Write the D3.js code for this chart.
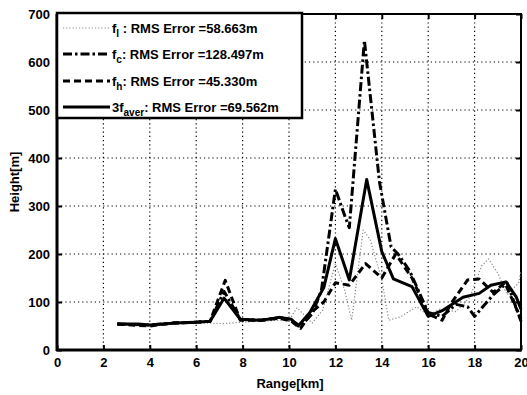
<!DOCTYPE html>
<html>
<head>
<meta charset="utf-8">
<script src="https://cdn.jsdelivr.net/npm/d3@7"></script>
<style>
  html, body { margin: 0; padding: 0; background: #fff; }
  svg { display: block; }
  text { font-family: "Liberation Sans", Arial, sans-serif; font-weight: bold; fill: #000; }
</style>
</head>
<body>
<svg id="chart" width="527" height="395"></svg>
<script>
// Height profiles along range, one pair of arrays per estimate
const rangeFl = [2.6, 4.0, 5.0, 6.0, 6.6, 7.2, 8.0, 8.8, 9.6, 10.0, 10.35, 11.0, 11.45, 12.0, 12.4, 12.7, 13.2, 13.5, 14.0, 14.3, 14.8, 15.5, 16.0, 16.5, 17.2, 17.8, 18.3, 18.6, 19.0, 19.4, 19.9, 20.0];
const heightFl = [52, 50, 54, 56, 56, 55, 58, 60, 62, 62, 88, 56, 83, 180, 125, 62, 250, 230, 146, 62, 69, 90, 72, 85, 80, 110, 175, 190, 160, 115, 140, 166];

const rangeFc = [2.6, 4.0, 5.0, 6.0, 6.6, 7.2, 7.9, 8.8, 9.6, 10.1, 10.5, 11.0, 11.4, 12.0, 12.4, 12.6, 13.25, 13.9, 14.4, 14.7, 15.2, 16.0, 16.6, 17.2, 17.7, 18.0, 18.8, 19.4, 20.0];
const heightFc = [54, 52, 56, 58, 60, 122, 64, 62, 68, 62, 50, 75, 125, 335, 280, 255, 645, 350, 215, 200, 165, 78, 70, 95, 90, 70, 115, 140, 60];

const rangeFh = [2.6, 4.0, 5.0, 6.0, 6.6, 7.25, 7.9, 8.8, 9.6, 10.1, 10.5, 11.0, 11.5, 12.0, 12.6, 13.3, 14.0, 14.6, 15.3, 16.0, 16.6, 17.0, 17.7, 18.2, 18.8, 19.3, 20.0];
const heightFh = [54, 50, 56, 58, 60, 145, 62, 62, 66, 60, 45, 80, 100, 140, 135, 180, 150, 200, 150, 75, 62, 98, 146, 148, 120, 140, 65];

const rangeAvg = [2.6, 3.5, 4.0, 5.0, 6.0, 6.6, 7.2, 7.9, 8.8, 9.6, 10.1, 10.4, 10.9, 11.5, 12.0, 12.6, 13.35, 14.0, 14.5, 15.3, 16.0, 16.6, 17.5, 18.2, 18.7, 19.35, 19.8, 20.0];
const heightAvg = [54, 54, 52, 56, 58, 60, 108, 64, 62, 68, 64, 50, 78, 130, 232, 146, 355, 205, 148, 132, 70, 82, 110, 118, 135, 142, 110, 85];

const xTicks = [0, 2, 4, 6, 8, 10, 12, 14, 16, 18, 20];
const yTicks = [0, 100, 200, 300, 400, 500, 600, 700];

const legendLabels = [
  { base: "f", sub: "l", rest: " : RMS Error =58.663m" },
  { base: "f", sub: "c", rest: ": RMS Error =128.497m" },
  { base: "f", sub: "h", rest: ": RMS Error =45.330m" },
  { base: "3f", sub: "aver", rest: ": RMS Error =69.562m" }
];

const svg = d3.select("#chart");
const plotL = 57, plotR = 521, plotT = 14, plotB = 350;

const x = d3.scaleLinear().domain([0, 20]).range([plotL, plotR]);
const y = d3.scaleLinear().domain([0, 700]).range([plotB, plotT]);

// grid
const grid = svg.append("g");
grid.selectAll(".gx").data(xTicks.filter(d => d > 0 && d < 20)).enter().append("line")
  .attr("x1", d => x(d)).attr("x2", d => x(d)).attr("y1", plotT).attr("y2", plotB)
  .attr("stroke", "#000").attr("stroke-width", 1.2).attr("stroke-dasharray", "1.2,3");
grid.selectAll(".gy").data(yTicks.filter(d => d > 0 && d < 700)).enter().append("line")
  .attr("x1", plotL).attr("x2", plotR).attr("y1", d => y(d)).attr("y2", d => y(d))
  .attr("stroke", "#000").attr("stroke-width", 1.2).attr("stroke-dasharray", "1.2,3");

// axes
const xAxis = d3.axisBottom(x).tickValues(xTicks).tickSize(-5).tickPadding(8);
const yAxis = d3.axisLeft(y).tickValues(yTicks).tickSize(-5).tickPadding(7);
const gx = svg.append("g").attr("transform", `translate(0,${plotB})`).call(xAxis);
const gy = svg.append("g").attr("transform", `translate(${plotL},0)`).call(yAxis);
[gx, gy].forEach(g => {
  g.select(".domain").remove();
  g.selectAll(".tick line").attr("stroke", "#000").attr("stroke-width", 2);
  g.selectAll(".tick text").style("font-size", "13px").style("font-family", "'Liberation Sans', Arial, sans-serif").style("font-weight", "bold");
});
// ticks on top and right edges
svg.append("g").attr("transform", `translate(0,${plotT})`)
  .call(d3.axisTop(x).tickValues(xTicks).tickSize(-5).tickFormat(""))
  .call(g => { g.select(".domain").remove(); g.selectAll(".tick line").attr("stroke-width", 2); });
svg.append("g").attr("transform", `translate(${plotR},0)`)
  .call(d3.axisRight(y).tickValues(yTicks).tickSize(-5).tickFormat(""))
  .call(g => { g.select(".domain").remove(); g.selectAll(".tick line").attr("stroke-width", 2); });

// frame
svg.append("rect").attr("x", plotL).attr("y", plotT).attr("width", plotR - plotL).attr("height", plotB - plotT)
  .attr("fill", "none").attr("stroke", "#000").attr("stroke-width", 2);
svg.append("line").attr("x1", plotL).attr("x2", plotL).attr("y1", plotT).attr("y2", plotB + 1)
  .attr("stroke", "#000").attr("stroke-width", 3);
svg.append("line").attr("x1", plotL - 1).attr("x2", plotR + 1).attr("y1", plotB).attr("y2", plotB)
  .attr("stroke", "#000").attr("stroke-width", 3);

// series
const series = [
  { xs: rangeFl, ys: heightFl, color: "#888", width: 1.2, dash: "1.2,2" },
  { xs: rangeFc, ys: heightFc, color: "#000", width: 3, dash: "9,3,2.5,3" },
  { xs: rangeFh, ys: heightFh, color: "#000", width: 3, dash: "7,4" },
  { xs: rangeAvg, ys: heightAvg, color: "#000", width: 3, dash: null }
];
const line = d3.line().x(d => x(d[0])).y(d => y(d[1]));
const plot = svg.append("g");
series.forEach(s => {
  plot.append("path")
    .attr("d", line(s.xs.map((v, i) => [v, s.ys[i]])))
    .attr("fill", "none").attr("stroke", s.color).attr("stroke-width", s.width)
    .attr("stroke-linejoin", "round")
    .attr("stroke-dasharray", s.dash);
});

// legend
const lg = svg.append("g");
lg.append("rect").attr("x", plotL).attr("y", plotT - 1).attr("width", 245).attr("height", 105)
  .attr("fill", "#fff").attr("stroke", "#000").attr("stroke-width", 2.5);
const rowY = [28, 54, 81, 107];
series.forEach((s, i) => {
  lg.append("line").attr("x1", 63).attr("x2", 110).attr("y1", rowY[i]).attr("y2", rowY[i])
    .attr("stroke", s.color).attr("stroke-width", s.width).attr("stroke-dasharray", s.dash);
  const t = lg.append("text").attr("x", 112).attr("y", rowY[i] + 4.5).style("font-size", "13px");
  t.append("tspan").text(legendLabels[i].base);
  t.append("tspan").attr("dy", 4).style("font-size", "10px").text(legendLabels[i].sub);
  t.append("tspan").attr("dy", -4).text(legendLabels[i].rest);
});

// axis titles
svg.append("text").attr("x", 290).attr("y", 388).attr("text-anchor", "middle")
  .style("font-size", "13px").text("Range[km]");
svg.append("text").attr("transform", "translate(19,182) rotate(-90)").attr("text-anchor", "middle")
  .style("font-size", "13px").text("Height[m]");
</script>
</body>
</html>
